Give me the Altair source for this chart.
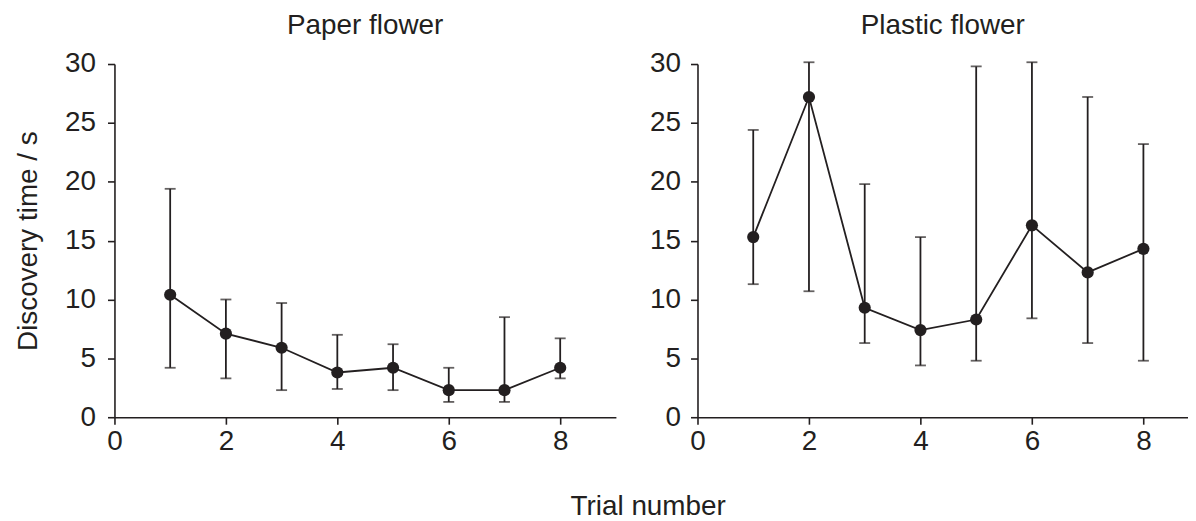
import altair as alt
import pandas as pd

trials = [1, 2, 3, 4, 5, 6, 7, 8]
paper_mean = [10.4, 7.1, 5.9, 3.8, 4.2, 2.3, 2.3, 4.2]
paper_low = [4.2, 3.3, 2.3, 2.4, 2.3, 1.3, 1.3, 3.3]
paper_high = [19.4, 10.0, 9.7, 7.0, 6.2, 4.2, 8.5, 6.7]
plastic_mean = [15.3, 27.2, 9.3, 7.4, 8.3, 16.3, 12.3, 14.3]
plastic_low = [11.3, 10.7, 6.3, 4.4, 4.8, 8.4, 6.3, 4.8]
plastic_high = [24.4, 30.15, 19.8, 15.3, 29.8, 30.15, 27.2, 23.2]

x_ticks = [0, 2, 4, 6, 8]
y_ticks = [0, 5, 10, 15, 20, 25, 30]

INK = "#231f20"
FONT = "Liberation Sans"
FS = 28


def panel(mean, low, high, title, xmax, width, ytitle, label_pad):
    df = pd.DataFrame({"trial": trials, "mean": mean, "low": low, "high": high})
    base = alt.Chart(df)
    xs = alt.Scale(domain=[0, xmax], nice=False, zero=False)
    ys = alt.Scale(domain=[0, 30], nice=False)
    xax = alt.Axis(values=x_ticks, title=None, labelPadding=3)
    yax_kwargs = dict(values=y_ticks, labelPadding=label_pad)
    if ytitle:
        yax = alt.Axis(title=ytitle, titlePadding=22, **yax_kwargs)
    else:
        yax = alt.Axis(title=None, **yax_kwargs)
    x = alt.X("trial:Q", scale=xs, axis=xax)
    rules = base.mark_rule(color=INK, strokeWidth=1.8, clip=False).encode(
        x=x, y=alt.Y("low:Q", scale=ys, axis=yax), y2="high:Q")
    cap_hi = base.mark_tick(color=INK, orient="horizontal", size=11, thickness=1.8).encode(
        x=x, y=alt.Y("high:Q", scale=ys))
    cap_lo = base.mark_tick(color=INK, orient="horizontal", size=11, thickness=1.8).encode(
        x=x, y=alt.Y("low:Q", scale=ys))
    line = base.mark_line(color=INK, strokeWidth=1.8).encode(x=x, y=alt.Y("mean:Q", scale=ys))
    pts = base.mark_circle(color=INK, opacity=1, size=150).encode(x=x, y=alt.Y("mean:Q", scale=ys))
    return alt.layer(rules, cap_hi, cap_lo, line, pts).properties(
        width=width, height=355,
        title=alt.TitleParams(title, anchor="middle", fontSize=FS, font=FONT,
                              fontWeight="normal", color=INK, offset=10))


left = panel(paper_mean, paper_low, paper_high, "Paper flower", 9, 504, "Discovery time / s", 12)
right = panel(plastic_mean, plastic_low, plastic_high, "Plastic flower", 8.8, 493, None, 10)

chart = alt.hconcat(left, right, spacing=33).properties(
    padding={"left": 6, "top": 3, "right": 0, "bottom": 0},
    title=alt.TitleParams("Trial number", orient="bottom", anchor="middle", fontSize=FS,
                          font=FONT, fontWeight="normal", color=INK, offset=38, dx=47),
).configure_view(stroke=None).configure_axis(
    grid=False, domainColor=INK, tickColor=INK, domainWidth=1.6, tickWidth=1.6, tickSize=7,
    labelFont=FONT, labelFontSize=FS, labelColor=INK, titleFont=FONT, titleFontSize=FS,
    titleFontWeight="normal", titleColor=INK, labelFlush=False, labelOverlap=False,
)

chart.save("out.html", embed_options={"renderer": "svg", "actions": False})
